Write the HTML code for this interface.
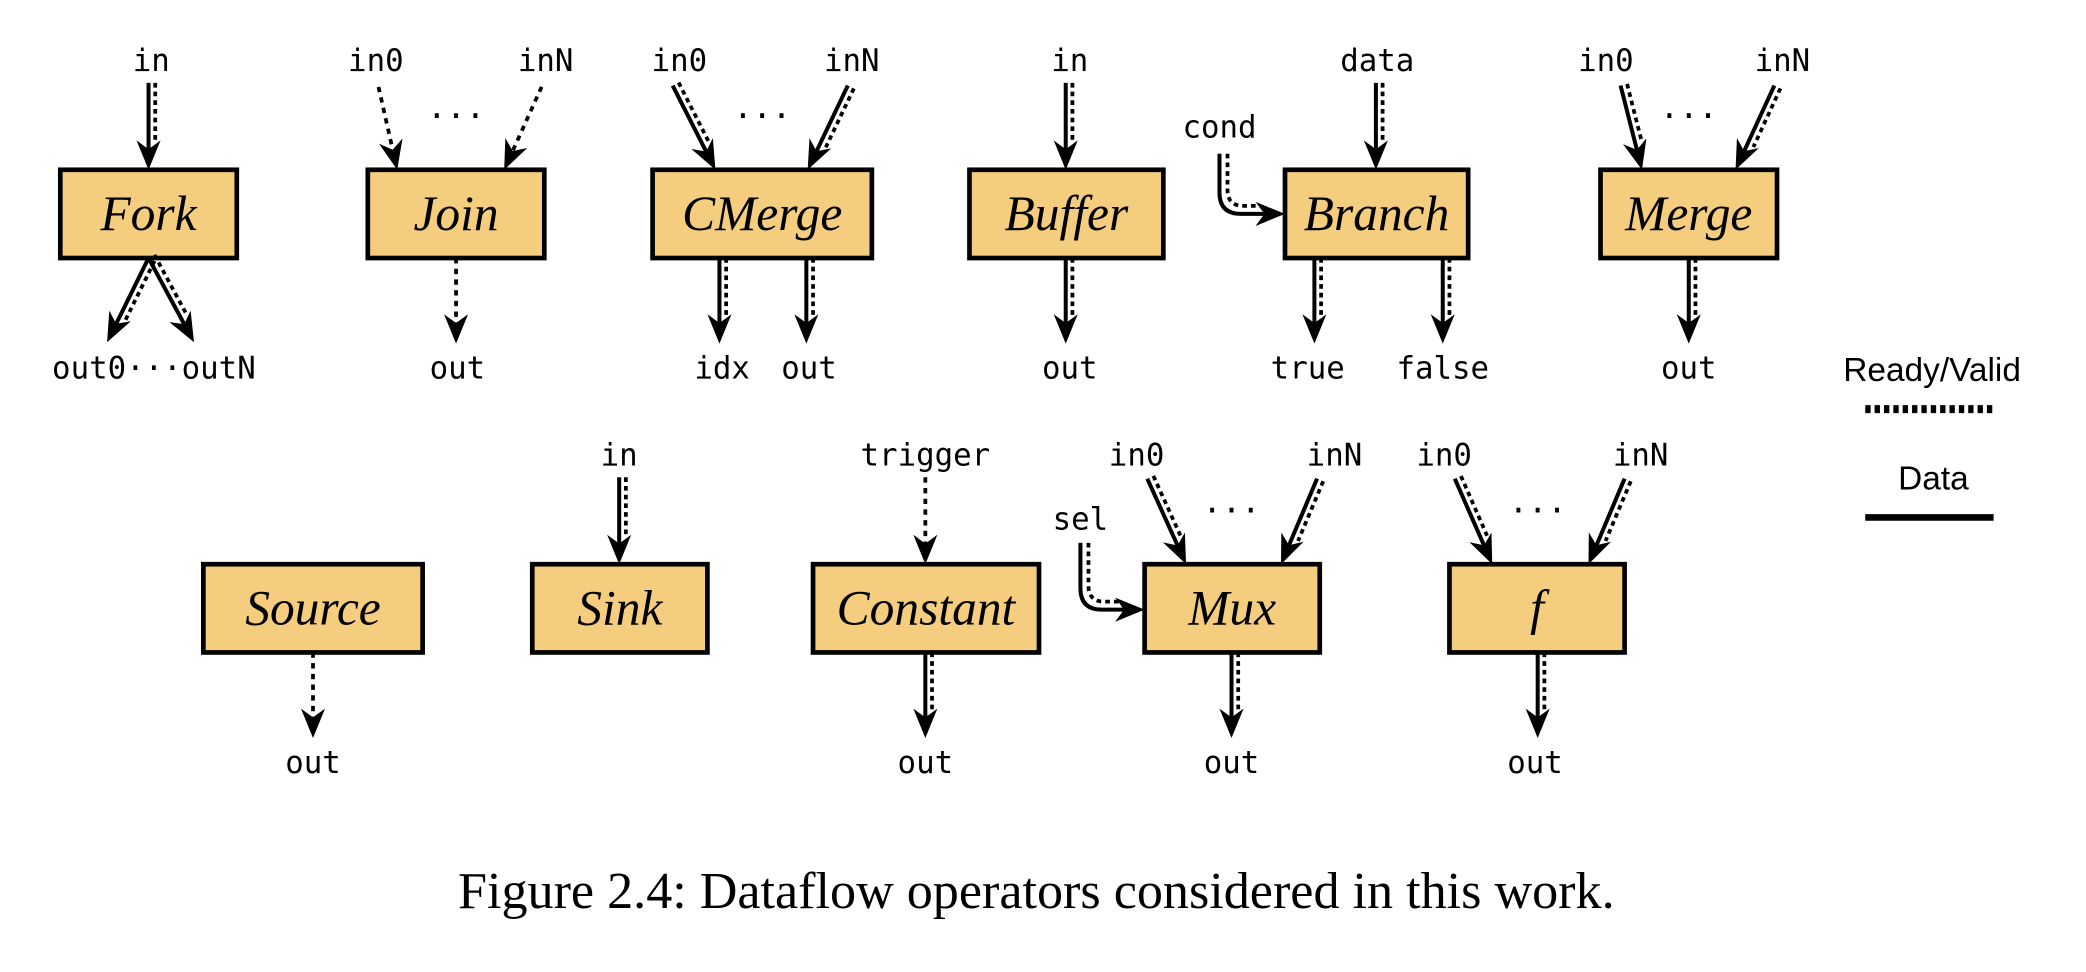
<!DOCTYPE html>
<html><head><meta charset="utf-8"><style>
html,body{margin:0;padding:0;background:#fff;}
svg{display:block;}
.mono{font-family:"DejaVu Sans Mono","Liberation Mono",monospace;font-size:23px;fill:#000;}
.ell{font-family:"DejaVu Sans Mono","Liberation Mono",monospace;font-size:24px;fill:#000;}
.box{fill:#F5CD7E;stroke:#000;stroke-width:3.5;}
.lbl{font-family:"Liberation Serif",serif;font-style:italic;font-size:37px;fill:#000;}
</style></head><body>
<svg id="fig" width="2086" height="972" viewBox="0 0 1560 727" xmlns="http://www.w3.org/2000/svg">
<g id="g"></g>
<text x="1445" y="285" text-anchor="middle" font-family="Liberation Sans, sans-serif" font-size="25">Ready/Valid</text>
<line x1="1395" y1="306" x2="1491" y2="306" stroke="#000" stroke-width="6" stroke-dasharray="4,3"/>
<text x="1446" y="366" text-anchor="middle" font-family="Liberation Sans, sans-serif" font-size="25">Data</text>
<line x1="1395" y1="387" x2="1491" y2="387" stroke="#000" stroke-width="5"/>
<text x="775" y="679" text-anchor="middle" font-family="Liberation Serif, serif" font-size="39">Figure 2.4: Dataflow operators considered in this work.</text>
</svg>
<script>
const NS='http://www.w3.org/2000/svg';
const g=document.getElementById('g');
function el(t,a,name){const e=document.createElementNS(NS,t);for(const k in a)e.setAttribute(k,a[k]);


g.appendChild(e);return e;}
function txt(x,y,s,name,cls){const e=el('text',{x:x,y:y,'text-anchor':'middle',class:cls||'mono'},name);e.textContent=s;return e;}
function box(x1,y1,x2,y2,label,name){el('rect',{x:x1,y:y1,width:x2-x1,height:y2-y1,class:'box'},name+'-box');
txt((x1+x2)/2,(y1+y2)/2+12,label,name+'-label','lbl');}
function head(x,y,ux,uy,name){const L=22,W=9;const bx=x-ux*L,by=y-uy*L;const px=-uy,py=ux;
el('polygon',{points:`${x},${y} ${bx+px*W},${by+py*W} ${x-ux*L*0.7},${y-uy*L*0.7} ${bx-px*W},${by-py*W}`,fill:'#000'},name+'-head');}
function arrow(x1,y1,x2,y2,type,name){const dx=x2-x1,dy=y2-y1,l=Math.hypot(dx,dy),ux=dx/l,uy=dy/l;const px=-uy,py=ux;
const ex=x2-ux*15,ey=y2-uy*15;
if(type==='dot'){el('line',{x1:x1,y1:y1,x2:ex,y2:ey,stroke:'#000','stroke-width':2.8,'stroke-dasharray':'4,4'},name+'-line');}
else{el('line',{x1:x1,y1:y1,x2:ex,y2:ey,stroke:'#000','stroke-width':3},name+'-line');
const o=-5;el('line',{x1:x1+px*o,y1:y1+py*o,x2:ex+px*o-ux*6,y2:ey+py*o-uy*6,stroke:'#000','stroke-width':2.8,'stroke-dasharray':'3.5,3'},name+'-ready-valid');}
head(x2,y2,ux,uy,name);}
function curve(x,y0,x2,y2,name){
el('path',{d:`M${x},${y0} L${x},${y2-16} Q${x},${y2} ${x+16},${y2} L${x2-15},${y2}`,fill:'none',stroke:'#000','stroke-width':3},name+'-line');
el('path',{d:`M${x+6},${y0} L${x+6},${y2-18} Q${x+6},${y2-6} ${x+18},${y2-6} L${x2-18},${y2-6}`,fill:'none',stroke:'#000','stroke-width':2.8,'stroke-dasharray':'3.5,3'},name+'-ready-valid');
head(x2,y2,1,0,name);}
// Row 1
box(45,127,177,193,'Fork','fork');txt(113,53,'in','fork-in-label');arrow(111,62,111,127,'both','fork-in-arrow');
arrow(111,193,80,256,'both','fork-out0-arrow');arrow(111,193,145,256,'both','fork-outN-arrow');txt(115,283,'out0···outN','fork-out-label');
box(275,127,407,193,'Join','join');txt(281,53,'in0','join-in0-label');txt(408,53,'inN','join-inN-label');
arrow(283,65,297,127,'dot','join-in0-arrow');arrow(405,65,377,127,'dot','join-inN-arrow');txt(341,95,'···','join-ellipsis','ell');
arrow(341,193,341,257,'dot','join-out-arrow');txt(342,283,'out','join-out-label');
box(488,127,652,193,'CMerge','cmerge');txt(508,53,'in0','cmerge-in0-label');txt(637,53,'inN','cmerge-inN-label');
arrow(503,64,535,127,'both','cmerge-in0-arrow');arrow(634,64,604,127,'both','cmerge-inN-arrow');txt(570,95,'···','cmerge-ellipsis','ell');
arrow(538,193,538,257,'both','cmerge-idx-arrow');arrow(603,193,603,257,'both','cmerge-out-arrow');
txt(540,283,'idx','cmerge-idx-label');txt(605,283,'out','cmerge-out-label');
box(725,127,870,193,'Buffer','buffer');txt(800,53,'in','buffer-in-label');arrow(797,62,797,127,'both','buffer-in-arrow');
arrow(797,193,797,257,'both','buffer-out-arrow');txt(800,283,'out','buffer-out-label');
box(961,127,1098,193,'Branch','branch');txt(1030,53,'data','branch-data-label');arrow(1029,62,1029,127,'both','branch-data-arrow');
txt(912,103,'cond','branch-cond-label');curve(912,115,961,160,'branch-cond-arrow');
arrow(983,193,983,257,'both','branch-true-arrow');arrow(1079,193,1079,257,'both','branch-false-arrow');
txt(978,283,'true','branch-true-label');txt(1079,283,'false','branch-false-label');
box(1197,127,1329,193,'Merge','merge');txt(1201,53,'in0','merge-in0-label');txt(1333,53,'inN','merge-inN-label');
arrow(1212,64,1228,127,'both','merge-in0-arrow');arrow(1327,64,1298,127,'both','merge-inN-arrow');txt(1263,95,'···','merge-ellipsis','ell');
arrow(1263,193,1263,257,'both','merge-out-arrow');txt(1263,283,'out','merge-out-label');
// Row 2
box(152,422,316,488,'Source','source');arrow(234,488,234,552,'dot','source-out-arrow');txt(234,578,'out','source-out-label');
box(398,422,529,488,'Sink','sink');txt(463,348,'in','sink-in-label');arrow(463,357,463,422,'both','sink-in-arrow');
box(608,422,777,488,'Constant','constant');txt(692,348,'trigger','constant-trigger-label');arrow(692,357,692,422,'dot','constant-trigger-arrow');
arrow(692,488,692,552,'both','constant-out-arrow');txt(692,578,'out','constant-out-label');
box(856,422,987,488,'Mux','mux');txt(850,348,'in0','mux-in0-label');txt(998,348,'inN','mux-inN-label');
arrow(858,358,887,422,'both','mux-in0-arrow');arrow(985,358,958,422,'both','mux-inN-arrow');txt(921,390,'···','mux-ellipsis','ell');
txt(808,396,'sel','mux-sel-label');curve(808,406,856,456,'mux-sel-arrow');
arrow(921,488,921,552,'both','mux-out-arrow');txt(921,578,'out','mux-out-label');
box(1084,422,1215,488,'f','func');txt(1080,348,'in0','func-in0-label');txt(1227,348,'inN','func-inN-label');
arrow(1088,358,1116,422,'both','func-in0-arrow');arrow(1215,358,1188,422,'both','func-inN-arrow');txt(1150,390,'···','func-ellipsis','ell');
arrow(1150,488,1150,552,'both','func-out-arrow');txt(1148,578,'out','func-out-label');
</script>
</body></html>
